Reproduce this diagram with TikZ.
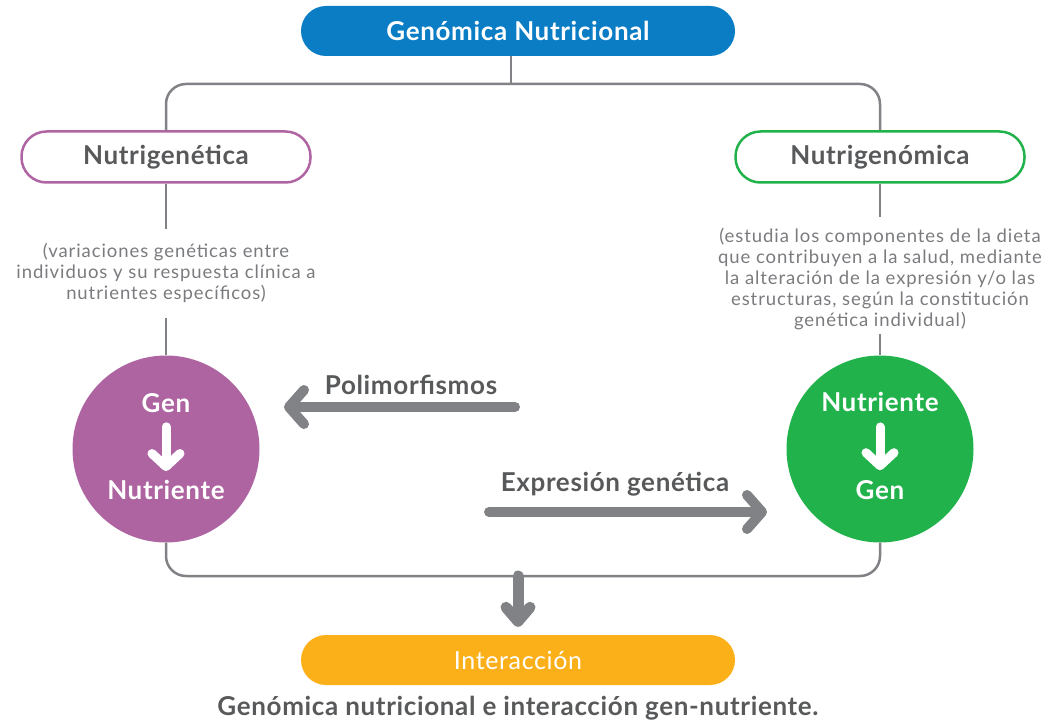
\documentclass[tikz,border=0pt]{standalone}
\usepackage{fontspec}
\setmainfont{Lato}
\newfontfamily\hfont{Lato}[LetterSpace=2.5]
\newfontfamily\dfont{Lato}[LetterSpace=5]
\usetikzlibrary{arrows.meta}
\definecolor{gblue}{HTML}{0A7DC5}
\definecolor{gpurple}{HTML}{B065A3}
\definecolor{cpurple}{HTML}{AD64A1}
\definecolor{ggreen}{HTML}{22B24C}
\definecolor{gorange}{HTML}{FBB01A}
\definecolor{gline}{HTML}{808285}
\definecolor{gtext}{HTML}{58595B}
\definecolor{gdesc}{HTML}{7A7B7E}
\tikzset{
 pill/.style={rectangle, rounded corners=25pt, minimum width=434pt, minimum height=50pt, inner sep=0pt, font=\fontsize{26}{30}\hfont\bfseries, text=white},
 opill/.style={rectangle, rounded corners=25pt, minimum width=289pt, minimum height=51pt, draw, line width=2.5pt, fill=white, text=gtext, font=\fontsize{26}{30}\hfont\bfseries},
 desc/.style={align=center, text=gdesc, font=\fontsize{18.5}{20.8}\dfont, inner sep=0pt},
 conn/.style={draw=gline, line width=2.5pt, rounded corners=20pt},
 blob/.style={circle, minimum size=187pt, inner sep=0pt},
 ctext/.style={text=white, font=\fontsize{26}{30}\hfont\bfseries, inner sep=0pt},
 alabel/.style={text=gtext, font=\fontsize{26}{30}\hfont\bfseries, inner sep=0pt},
 bigarrow/.style={draw=gline, line width=10pt, line cap=round, -{Straight Barb[length=15pt,width=34pt,round]}},
 whitearrow/.style={draw=white, line width=9pt, line cap=round, -{Straight Barb[length=13pt,width=28pt,round]}},
}
\begin{document}
\begin{tikzpicture}[x=1pt,y=-1pt]
\useasboundingbox (0,0) rectangle (1055,722);
% top
\node[pill, fill=gblue] (top) at (518,31) {Genómica Nutricional};
\coordinate (hub) at (511,84);
\node[opill, draw=gpurple] (ng) at (166,157) {Nutrigenética};
\node[opill, draw=ggreen] (nm) at (880,157) {Nutrigenómica};
\draw[conn] (top.south -| hub) -- (hub);
\draw[conn] (ng.north) |- (hub) -| (nm.north);
% descriptions
\node[desc] (ldesc) at (166,273) {(variaciones genéticas entre\\individuos y su respuesta clínica a\\nutrientes específicos)};
\node[desc] (rdesc) at (880,279) {(estudia los componentes de la dieta\\que contribuyen a la salud, mediante\\la alteración de la expresión y/o las\\estructuras, según la constitución\\genética individual)};
% circles
\node[blob, fill=cpurple] (lc) at (166,449) {};
\node[blob, fill=ggreen] (rc) at (880,449) {};
\draw[conn, shorten >=14pt] (ng.south) -- (ldesc.north);
\draw[conn, shorten <=15pt] (ldesc.south) -- (lc.north);
\draw[conn, shorten >=11pt] (nm.south) -- (rdesc.north);
\draw[conn, shorten <=4pt] (rdesc.south) -- (rc.north);
% circle contents
\node[ctext] (lgen) at (166,403) {Gen};
\node[ctext] (lnut) at (166,490) {Nutriente};
\draw[whitearrow, shorten <=14pt, shorten >=9pt] (lgen.south) -- (lnut.north);
\node[ctext] (rnut) at (880,402) {Nutriente};
\node[ctext] (rgen) at (880,490) {Gen};
\draw[whitearrow, shorten <=15pt, shorten >=10pt] (rnut.south) -- (rgen.north);
% middle arrows
\coordinate (pstart) at (515,407);
\coordinate (pend) at (284,407);
\draw[bigarrow] (pstart) -- (pend);
\node[alabel] (plabel) at (411,385) {Polimorfismos};
\coordinate (estart) at (489,512);
\coordinate (eend) at (767,512);
\draw[bigarrow] (estart) -- (eend);
\node[alabel] (elabel) at (615,484) {Expresión genética};
% bottom
\coordinate (hub2) at (518,576);
\draw[conn] (lc.south) |- (hub2) -| (rc.south);
\node[pill, fill=gorange, font=\fontsize{25}{30}\hfont] (inter) at (518,660) {Interacción};
\draw[bigarrow, line width=11pt, -{Straight Barb[length=14pt,width=24pt,round]}, shorten >=8pt] (hub2) -- (inter.north);
\node[alabel] (cap) at (518,708) {Genómica nutricional e interacción gen-nutriente.};
\end{tikzpicture}
\end{document}
